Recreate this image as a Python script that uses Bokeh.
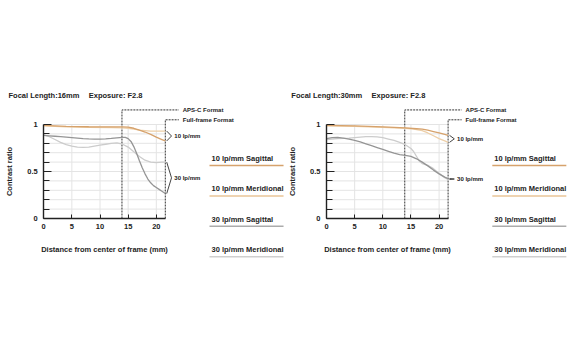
from bokeh.plotting import figure
from bokeh.layouts import row
from bokeh.models import Range1d, LinearAxis, FixedTicker, NumeralTickFormatter, Label
from bokeh.embed import file_html
from bokeh.resources import INLINE

# ---------------- data ----------------
# 16 mm, F2.8
x16_10s = [0, 2, 4, 6, 8, 10, 12, 14, 15, 16, 17, 18, 19, 20, 21, 21.6]
y16_10s = [0.99, 0.985, 0.98, 0.978, 0.976, 0.975, 0.975, 0.975, 0.972, 0.96, 0.94, 0.92, 0.895, 0.865, 0.84, 0.825]
x16_10m = [0, 4, 8, 12, 14, 15, 16, 17, 18, 19, 20, 21, 21.6]
y16_10m = [0.985, 0.975, 0.97, 0.968, 0.965, 0.96, 0.95, 0.94, 0.935, 0.93, 0.93, 0.93, 0.93]
x16_30s = [0, 1, 2, 3, 4, 5, 6, 7, 8, 9, 10, 11, 12, 13, 14, 14.5, 15, 15.5, 16, 16.5, 17, 17.5, 18, 18.5, 19, 19.5, 20, 20.5, 21, 21.6]
y16_30s = [0.885, 0.88, 0.875, 0.87, 0.865, 0.86, 0.855, 0.85, 0.847, 0.845, 0.845, 0.847, 0.852, 0.858, 0.862, 0.862, 0.85, 0.82, 0.765, 0.695, 0.615, 0.54, 0.475, 0.42, 0.38, 0.35, 0.33, 0.31, 0.29, 0.265]
x16_30m = [0, 1, 2, 3, 4, 5, 6, 7, 8, 9, 10, 11, 12, 13, 14, 15, 16, 17, 18, 19, 20, 21, 21.6]
y16_30m = [0.89, 0.87, 0.84, 0.81, 0.785, 0.77, 0.76, 0.757, 0.76, 0.77, 0.78, 0.79, 0.8, 0.805, 0.79, 0.76, 0.71, 0.66, 0.62, 0.6, 0.595, 0.6, 0.6]

# 30 mm, F2.8
x30_10s = [0, 5, 10, 14, 16, 17, 18, 19, 20, 21, 21.6]
y30_10s = [0.99, 0.985, 0.975, 0.965, 0.955, 0.95, 0.94, 0.925, 0.91, 0.895, 0.885]
x30_10m = [0, 5, 10, 14, 15, 16, 17, 18, 19, 20, 21, 21.6]
y30_10m = [0.985, 0.98, 0.97, 0.96, 0.955, 0.945, 0.935, 0.91, 0.88, 0.85, 0.825, 0.81]
x30_30s = [0, 1, 2, 3, 4, 5, 6, 7, 8, 9, 10, 11, 12, 13, 14, 15, 16, 17, 18, 19, 20, 21, 21.6]
y30_30s = [0.85, 0.86, 0.862, 0.855, 0.845, 0.83, 0.815, 0.795, 0.775, 0.755, 0.735, 0.715, 0.695, 0.68, 0.672, 0.66, 0.635, 0.6, 0.56, 0.515, 0.475, 0.44, 0.425]
x30_30m = [0, 1, 2, 3, 4, 5, 6, 7, 8, 9, 10, 11, 12, 13, 14, 15, 15.5, 16, 16.5, 17, 18, 19, 20, 21, 21.6]
y30_30m = [0.84, 0.845, 0.85, 0.852, 0.855, 0.86, 0.865, 0.87, 0.872, 0.868, 0.86, 0.845, 0.83, 0.81, 0.785, 0.745, 0.71, 0.66, 0.61, 0.585, 0.565, 0.53, 0.48, 0.435, 0.415]

x_ticks = [0, 5, 10, 15, 20]
y_ticks = [0, 0.5, 1]
y_minor = [0.1, 0.2, 0.3, 0.4, 0.6, 0.7, 0.8, 0.9]
grid_y = [0.1, 0.2, 0.3, 0.4, 0.5, 0.6, 0.7, 0.8, 0.9, 1.0]
grid_x = [5, 10, 15, 20]
aps_c = 13.9
full_frame = 21.6
legend_labels = ["10 lp/mm Sagittal", "10 lp/mm Meridional", "30 lp/mm Sagittal", "30 lp/mm Meridional"]

# ---------------- style ----------------
FONT = "Liberation Sans"
TXT = "#222222"
C10S = "#d6a26c"
C10M = "#edcfa8"
C30S = "#959595"
C30M = "#cccccc"
LEG_C = [C10S, "#e9c497", "#ababab", "#cfcfcf"]
SX = 5.63   # px per mm
SY = 94.0   # px per unit contrast
Y0 = 218.0  # px of contrast 0 (from top)
H = 353


def make_chart(width, ox, focal, series):
    p = figure(width=width, height=H, min_border=0, toolbar_location=None,
               output_backend="svg", x_axis_type=None, y_axis_type=None,
               x_range=Range1d(-ox / SX, (width - ox) / SX),
               y_range=Range1d((Y0 - H) / SY, Y0 / SY))
    p.outline_line_color = None
    p.background_fill_color = "white"
    p.border_fill_color = "white"

    # grid
    p.segment(x0=[0] * len(grid_y), x1=[full_frame] * len(grid_y), y0=grid_y, y1=grid_y,
              line_color="#e4e4e4", line_width=1)
    p.segment(x0=grid_x, x1=grid_x, y0=[0] * len(grid_x), y1=[1] * len(grid_x),
              line_color="#e4e4e4", line_width=1)

    # format lines
    p.line([aps_c, aps_c, 24.0], [0, 1.155, 1.155], line_color="#333333", line_width=1, line_dash="2 1")
    p.line([full_frame, full_frame, 24.0], [0, 1.05, 1.05], line_color="#333333", line_width=1, line_dash="2 1")
    for yy, t in [(1.155, "APS-C Format"), (1.05, "Full-frame Format")]:
        p.add_layout(Label(x=24.7, y=yy, text=t, text_font=FONT, text_font_style="bold",
                           text_font_size="6px", text_color=TXT, text_baseline="middle"))

    # curves
    (xs10, ys10), (xm10, ym10), (xs30, ys30), (xm30, ym30) = series
    p.line(xm10, ym10, line_color=C10M, line_width=1.3)
    p.line(xs10, ys10, line_color=C10S, line_width=1.3)
    p.line(xm30, ym30, line_color=C30M, line_width=1.3)
    p.line(xs30, ys30, line_color=C30S, line_width=1.3)

    # braces
    for ends, t in [((ys10[-1], ym10[-1]), "10 lp/mm"), ((ys30[-1], ym30[-1]), "30 lp/mm")]:
        top, bot = max(ends), min(ends)
        mid = (top + bot) / 2
        p.line([full_frame + 0.25, full_frame + 1.1, full_frame + 0.25], [top, mid, bot],
               line_color="#444444", line_width=1)
        p.add_layout(Label(x=full_frame + 1.6, y=mid, text=t, text_font=FONT, text_font_style="bold",
                           text_font_size="6px", text_color=TXT, text_baseline="middle"))

    # axes
    xa = LinearAxis(fixed_location=0, bounds=(0, full_frame), ticker=FixedTicker(ticks=x_ticks))
    xa.axis_label = "Distance from center of frame (mm)"
    ya = LinearAxis(fixed_location=0, bounds=(0, 1),
                    ticker=FixedTicker(ticks=y_ticks, minor_ticks=y_minor),
                    formatter=NumeralTickFormatter(format="0.[0]"))
    ya.axis_label = "Contrast ratio"
    for ax in (xa, ya):
        ax.axis_line_color = "#222222"
        ax.axis_line_width = 1.4
        ax.major_tick_line_color = "#222222"
        ax.minor_tick_line_color = "#222222"
        ax.major_tick_out = 0
        ax.minor_tick_out = 0
        ax.major_label_text_font = FONT
        ax.major_label_text_font_style = "bold"
        ax.major_label_text_font_size = "7.5px"
        ax.major_label_text_color = TXT
        ax.axis_label_text_font = FONT
        ax.axis_label_text_font_style = "bold"
        ax.axis_label_text_font_size = "7.5px"
        ax.axis_label_text_color = TXT
    xa.major_tick_in = 4
    xa.major_label_standoff = 5
    xa.axis_label_standoff = 13
    ya.major_tick_in = 8
    ya.minor_tick_in = 6
    ya.major_label_standoff = 6
    ya.axis_label_standoff = 10
    p.add_layout(xa, "below")
    p.add_layout(ya, "left")

    # titles
    p.add_layout(Label(x=-6.25, y=(Y0 - 95) / SY, text="Focal Length:" + focal, text_font=FONT,
                       text_font_style="bold", text_font_size="7.5px", text_color=TXT,
                       text_baseline="middle"))
    p.add_layout(Label(x=8.0, y=(Y0 - 95) / SY, text="Exposure: F2.8", text_font=FONT,
                       text_font_style="bold", text_font_size="7.5px", text_color=TXT,
                       text_baseline="middle"))

    # legend
    for i, (lab, col) in enumerate(zip(legend_labels, LEG_C)):
        ty = (Y0 - (157.7 + 30.4 * i)) / SY
        ly = (Y0 - (165.0 + 30.4 * i)) / SY
        p.add_layout(Label(x=29.8, y=ty, text=lab, text_font=FONT, text_font_style="bold",
                           text_font_size="7.5px", text_color=TXT, text_baseline="middle"))
        p.line([29.45, 42.6], [ly, ly], line_color=col, line_width=1.5)
    return p


p1 = make_chart(287, 43.2, "16mm", [(x16_10s, y16_10s), (x16_10m, y16_10m),
                                     (x16_30s, y16_30s), (x16_30m, y16_30m)])
p2 = make_chart(286, 39.0, "30mm", [(x30_10s, y30_10s), (x30_10m, y30_10m),
                                     (x30_30s, y30_30s), (x30_30m, y30_30m)])
layout = row(p1, p2)
open("out.html", "w").write(file_html(layout, INLINE))
